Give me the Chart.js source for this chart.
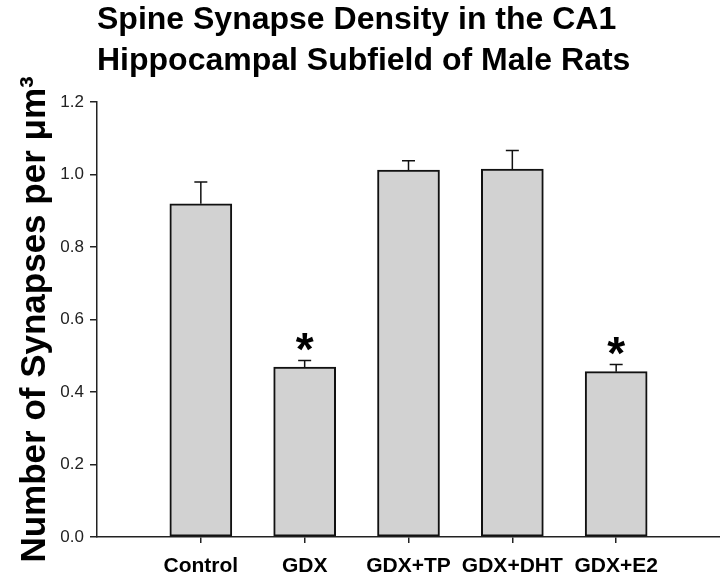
<!DOCTYPE html>
<html>
<head>
<meta charset="utf-8">
<script src="https://cdn.jsdelivr.net/npm/chart.js@4"></script>
<style>
  body { margin: 0; background: #fff; }
  #wrap { width: 720px; height: 580px; }
</style>
</head>
<body>
<div id="wrap"><canvas id="synapseChart" width="720" height="580"></canvas></div>
<script>
const groups = ['Control', 'GDX', 'GDX+TP', 'GDX+DHT', 'GDX+E2'];
const density = [0.919, 0.469, 1.012, 1.015, 0.456];   // mean synapses per um3
const sem = [0.060, 0.018, 0.026, 0.051, 0.020];       // upper error bar
const marks = ['', '*', '', '', '*'];                  // significance
const yTicks = [0, 0.2, 0.4, 0.6, 0.8, 1.0, 1.2];

// blank slots either side, like the original axis that runs 0..6
const labels = [''].concat(groups, ['']);
const values = [null].concat(density, [null]);

const errorBars = {
  id: 'errorBars',
  afterDatasetsDraw(chart) {
    const ctx = chart.ctx;
    const y = chart.scales.y;
    const meta = chart.getDatasetMeta(0);
    ctx.save();
    ctx.strokeStyle = '#111';
    ctx.lineWidth = 1.5;
    for (let i = 0; i < groups.length; i++) {
      const bar = meta.data[i + 1];
      const top = y.getPixelForValue(density[i] + sem[i]);
      ctx.beginPath();
      ctx.moveTo(bar.x, bar.y);
      ctx.lineTo(bar.x, top);
      ctx.moveTo(bar.x - 6.5, top);
      ctx.lineTo(bar.x + 6.5, top);
      ctx.stroke();
      if (marks[i]) {
        ctx.fillStyle = '#000';
        ctx.font = 'bold 46px "Liberation Sans", Arial, sans-serif';
        ctx.textAlign = 'center';
        ctx.textBaseline = 'alphabetic';
        ctx.fillText(marks[i], bar.x, top + 5);
      }
    }
    ctx.restore();
  }
};

new Chart(document.getElementById('synapseChart'), {
  type: 'bar',
  data: {
    labels: labels,
    datasets: [{
      data: values,
      backgroundColor: '#d2d2d2',
      borderColor: '#111',
      borderWidth: 2,
      borderSkipped: false,
      barThickness: 62
    }]
  },
  options: {
    responsive: false,
    animation: false,
    layout: { padding: 0 },
    plugins: {
      legend: { display: false },
      tooltip: { enabled: false },
      title: {
        display: true,
        fullSize: false,
        align: 'start',
        text: ['Spine Synapse Density in the CA1', 'Hippocampal Subfield of Male Rats'],
        color: '#000',
        font: { family: '"Liberation Sans", Arial, sans-serif', size: 32, weight: 'bold', lineHeight: 1.28 },
        padding: { top: 0, bottom: 20 }
      }
    },
    scales: {
      x: {
        offset: false,
        afterFit: s => { s.paddingLeft = 0; s.paddingRight = 0; s.height = 43; },
        border: { color: '#222', width: 1.5 },
        grid: {
          offset: false,
          drawOnChartArea: false,
          tickLength: 6,
          color: c => (c.tick && c.tick.label === '') ? 'rgba(0,0,0,0)' : '#222',
          lineWidth: 1.5
        },
        ticks: {
          color: '#000',
          padding: 11,
          autoSkip: false,
          maxRotation: 0,
          font: { family: '"Liberation Sans", Arial, sans-serif', size: 21, weight: 'bold' }
        }
      },
      y: {
        min: 0,
        max: 1.2,
        afterBuildTicks: s => { s.ticks = yTicks.map(v => ({ value: v })); },
        afterFit: s => { s.width = 97; s.paddingTop = 0; s.paddingBottom = 0; },
        border: { color: '#222', width: 1.5 },
        grid: { drawOnChartArea: false, tickLength: 7, color: '#222', lineWidth: 1.5 },
        ticks: {
          color: '#222',
          padding: 6,
          font: { family: '"Liberation Sans", Arial, sans-serif', size: 17 },
          callback: v => Number(v).toFixed(1)
        },
        title: {
          display: true,
          text: 'Number of Synapses per \u03bcm\u00b3',
          color: '#000',
          font: { family: '"Liberation Sans", Arial, sans-serif', size: 35, weight: 'bold' },
          padding: { top: 14, bottom: 0 }
        }
      }
    }
  },
  plugins: [errorBars]
});
</script>
</body>
</html>
